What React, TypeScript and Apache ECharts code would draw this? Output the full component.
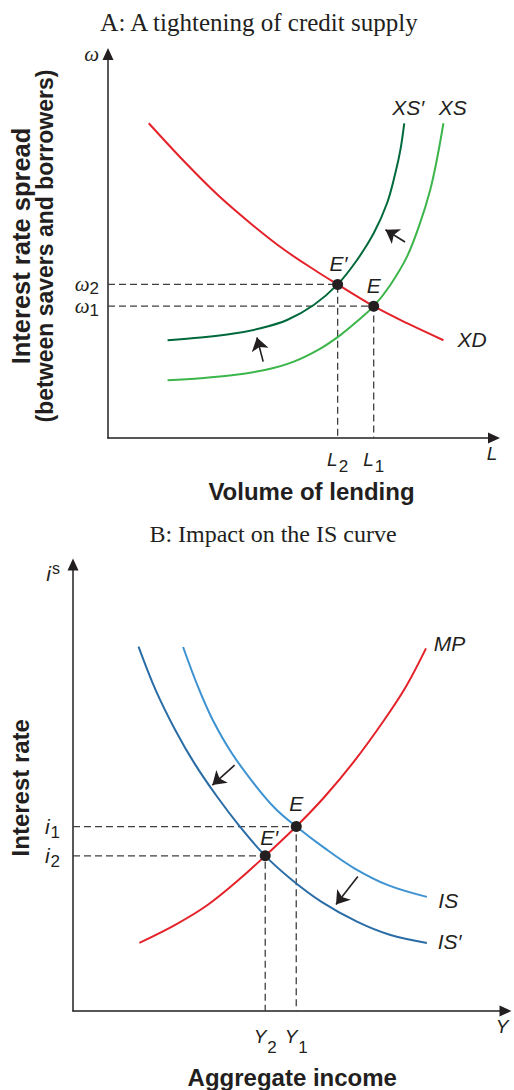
import React, { useEffect, useRef } from "react";
import * as echarts from "echarts";

// ---------- Panel A (abstract units) ----------
const xdCurve = [[10.4,79.5],[19.4,69.9],[27.9,61.5],[36.4,54.2],[44.9,47.6],[53.4,42.0],[58.6,38.8],[67.8,33.3],[76.3,29.0],[85.6,24.7]];
const xsPrimeCurve = [[15.2,24.7],[23.7,25.4],[32.1,26.4],[38.9,27.7],[45.7,29.8],[52.5,33.6],[58.6,38.8],[63.5,44.9],[67.8,51.7],[71.2,59.3],[73.3,66.8],[74.6,72.7],[75.6,79.5]];
const xsCurve = [[15.2,14.6],[23.7,15.1],[32.1,15.9],[40.6,17.3],[47.4,19.3],[54.2,22.6],[59.3,26.0],[63.5,29.4],[67.8,33.3],[72.0,38.6],[76.3,45.8],[79.6,54.2],[82.2,62.6],[83.9,70.2],[85.6,79.5]];
const L2 = 58.6, L1 = 67.8, W2 = 38.8, W1 = 33.3;
const eqA = [[L2, W2], [L1, W1]];
const shiftArrowsA = [[[75.8,49.5],[70.8,52.6]], [[39.6,19.3],[38.0,25.4]]];
const curveLabelsA = [["XS′", 76.6, 83.6], ["XS", 88.0, 83.6], ["XD", 92.9, 25.0]];
const eqLabelsA = [["E′", 58.8, 44.1], ["E", 67.8, 38.6]];
const xTicksA = [[L2, "L", "2"], [L1, "L", "1"], [98, "L", ""]];
const yTicksA = [[W1, "ω", "1"], [97, "ω", ""]];
const yTicksA2 = [[W2, "ω", "2"]];

// ---------- Panel B (abstract units) ----------
const mpCurve = [[15.2,15.1],[23.4,19.1],[30.8,23.5],[38.2,29.3],[44.0,34.4],[51.1,40.9],[57.6,47.5],[64.3,55.3],[71.0,64.2],[76.2,71.9],[80.8,80.4]];
const isCurve = [[25.2,80.7],[28.6,71.9],[31.9,64.7],[36.4,57.1],[42.0,49.7],[46.4,44.8],[51.1,40.9],[57.6,36.1],[64.3,31.7],[72.1,27.9],[81.0,25.3]];
const isPrimeCurve = [[15.0,80.8],[18.9,71.2],[23.4,62.3],[27.8,54.9],[33.0,47.5],[38.2,40.9],[44.0,34.4],[50.2,29.0],[56.9,24.2],[65.0,19.8],[72.5,16.9],[81.0,15.1]];
const Y2 = 44.0, Y1 = 51.1, I1 = 40.9, I2 = 34.4;
const eqB = [[Y1, I1], [Y2, I2]];
const shiftArrowsB = [[[37.0,54.5],[31.9,50.1]], [[65.2,29.8],[60.2,23.6]]];
const curveLabelsB = [["MP", 86.2, 81.4], ["IS", 85.9, 24.4], ["IS′", 86.2, 15.4]];
const eqLabelsB = [["E", 51.1, 46.1], ["E′", 44.9, 38.4]];
const xTicksB = [[Y2, "Y", "2"], [Y1, "Y", "1"], [98.2, "Y", ""]];
const yTicksB = [[I2, "i", "2"], [I1, "i", "1"], [97.1, "i", "s"]];

const INK = "#231f20";
const RED = "#e42229";
const DGREEN = "#00693b";
const LGREEN = "#3cb54a";
const LBLUE = "#3d92d2";
const DBLUE = "#2a6da6";
const DASH = "#3f3f3f";

function tickFormatter(ticks: any[]) {
  return (v: number) => {
    const t = ticks.find((k) => Math.abs(k[0] - v) < 0.001);
    if (!t) return "";
    if (t[2] === "") return `{m|${t[1]}}`;
    if (t[2] === "s") return `{m|${t[1]}}{sup|s}`;
    return `{m|${t[1]}}{s|${t[2]}}`;
  };
}

export default function App() {
  const ref = useRef<HTMLDivElement>(null);
  useEffect(() => {
    const chart = echarts.init(ref.current!, null, { renderer: "svg" });
    const sans = "Liberation Sans";
    const serif = "Liberation Serif";
    const labelItalic = { fontFamily: sans, fontStyle: "italic", fontSize: 21, color: INK };

    const gridA = { left: 107, top: 54, width: 387, height: 384 };
    const gridB = { left: 62, top: 564.5, width: 443.5, height: 446.5 };

    const axisLine = {
      show: true,
      symbol: ["none", "triangle"],
      symbolSize: [11, 12],
      lineStyle: { color: INK, width: 1.5 },
    };

    const curve = (data: number[][], color: string, idx: number) => ({
      type: "line",
      data,
      xAxisIndex: idx,
      yAxisIndex: idx,
      smooth: 0.35,
      symbol: "none",
      lineStyle: { color, width: 2 },
      z: 3,
      silent: true,
    });
    const dashed = (x: number, y: number, idx: number) => ({
      type: "line",
      data: [[0, y], [x, y], [x, 0]],
      xAxisIndex: idx,
      yAxisIndex: idx,
      symbol: "none",
      lineStyle: { color: DASH, width: 1.3, type: [7, 4] },
      z: 2,
      silent: true,
    });
    const arrows = (list: number[][][], idx: number) => ({
      type: "lines",
      coordinateSystem: "cartesian2d",
      xAxisIndex: idx,
      yAxisIndex: idx,
      symbol: ["none", "arrow"],
      symbolSize: 13,
      lineStyle: { color: INK, width: 1.6, opacity: 1 },
      data: list.map((c) => ({ coords: c })),
      z: 4,
      silent: true,
    });
    const points = (list: number[][], idx: number) => ({
      type: "scatter",
      xAxisIndex: idx,
      yAxisIndex: idx,
      symbolSize: 11,
      itemStyle: { color: INK, opacity: 1 },
      data: list,
      z: 5,
      silent: true,
    });
    const texts = (list: any[], idx: number) => ({
      type: "scatter",
      xAxisIndex: idx,
      yAxisIndex: idx,
      symbolSize: 0,
      itemStyle: { opacity: 1 },
      data: list.map((p) => ({ value: [p[1], p[2]], name: p[0] })),
      label: { show: true, position: "inside", formatter: "{b}", ...labelItalic },
      z: 6,
      silent: true,
    });

    const richX = (subPad: number) => ({
      m: { fontFamily: sans, fontStyle: "italic", fontSize: 19, color: INK },
      s: { fontFamily: sans, fontSize: 17, color: INK, padding: [subPad, 0, 0, 1] },
    });
    const omegaLabel = (ticks: any[]) => ({
      customValues: ticks.map((t) => t[0]),
      formatter: tickFormatter(ticks),
      hideOverlap: false, showMinLabel: true, showMaxLabel: true,
      margin: 9,
      rich: {
        m: { fontFamily: serif, fontStyle: "italic", fontSize: 21, color: INK },
        s: { fontFamily: sans, fontSize: 17, color: INK, padding: [9, 0, 0, 0] },
      },
    });

    chart.setOption({
      animation: false,
      title: [
        { text: "A: A tightening of credit supply", left: 254, textAlign: "center", top: 5,
          textStyle: { fontFamily: serif, fontSize: 25, fontWeight: "normal", color: INK } },
        { text: "B: Impact on the IS curve", left: 268, textAlign: "center", top: 517,
          textStyle: { fontFamily: serif, fontSize: 24, fontWeight: "normal", color: INK } },
      ],
      grid: [gridA, gridB],
      xAxis: [
        {
          type: "value", gridIndex: 0, min: 0, max: 98.5,
          axisLine, axisTick: { show: false }, splitLine: { show: false },
          axisLabel: {
            customValues: xTicksA.map((t) => t[0]),
            formatter: tickFormatter(xTicksA),
            hideOverlap: false, showMinLabel: true, showMaxLabel: true,
            margin: 6,
            rich: richX(14),
          },
          name: "Volume of lending", nameLocation: "middle", nameGap: 41,
          nameTextStyle: { fontFamily: sans, fontWeight: "bold", fontSize: 24, color: INK, padding: [0, 0, 0, 21] },
        },
        {
          type: "value", gridIndex: 1, min: 0, max: 99,
          axisLine, axisTick: { show: false }, splitLine: { show: false },
          axisLabel: {
            customValues: xTicksB.map((t) => t[0]),
            formatter: tickFormatter(xTicksB),
            hideOverlap: false, showMinLabel: true, showMaxLabel: true,
            margin: 6,
            rich: richX(22),
          },
          name: "Aggregate income", nameLocation: "middle", nameGap: 54,
          nameTextStyle: { fontFamily: sans, fontWeight: "bold", fontSize: 24, color: INK, padding: [0, 0, 0, 6] },
        },
      ],
      yAxis: [
        {
          type: "value", gridIndex: 0, min: 0, max: 97, position: "left",
          axisLine, axisTick: { show: false }, splitLine: { show: false },
          axisLabel: omegaLabel(yTicksA),
          name: "{a|Interest rate spread}\n{b|(between savers and borrowers)}",
          nameLocation: "middle", nameGap: 51, nameRotate: 90,
          nameTextStyle: {
            fontFamily: sans, fontWeight: "bold", fontSize: 23, lineHeight: 24, color: INK,
            rich: {
              a: { fontFamily: sans, fontWeight: "bold", fontSize: 25.5, lineHeight: 24, color: INK },
              b: { fontFamily: sans, fontWeight: "bold", fontSize: 23, lineHeight: 24, color: INK },
            },
          },
        },
        {
          type: "value", gridIndex: 1, min: 0, max: 99,
          axisLine, axisTick: { show: false }, splitLine: { show: false },
          axisLabel: {
            customValues: yTicksB.map((t) => t[0]),
            formatter: tickFormatter(yTicksB),
            hideOverlap: false, showMinLabel: true, showMaxLabel: true,
            margin: 13,
            rich: {
              m: { fontFamily: sans, fontStyle: "italic", fontSize: 21, color: INK },
              s: { fontFamily: sans, fontSize: 17, color: INK, padding: [12, 0, 0, 1] },
              sup: { fontFamily: sans, fontSize: 16, color: INK, padding: [0, 0, 10, 1] },
            },
          },
          name: "Interest rate",
          nameLocation: "middle", nameGap: 41, nameRotate: 90,
          nameTextStyle: { fontFamily: sans, fontWeight: "bold", fontSize: 24, color: INK },
        },
        {
          type: "value", gridIndex: 0, min: 0, max: 97, position: "left", offset: 0,
          axisLine: { show: false }, axisTick: { show: false }, splitLine: { show: false },
          axisLabel: omegaLabel(yTicksA2),
        },
      ],
      series: [
        dashed(L2, W2, 0),
        dashed(L1, W1, 0),
        curve(xdCurve, RED, 0),
        curve(xsPrimeCurve, DGREEN, 0),
        curve(xsCurve, LGREEN, 0),
        arrows(shiftArrowsA, 0),
        points(eqA, 0),
        texts(curveLabelsA, 0),
        texts(eqLabelsA, 0),
        dashed(Y1, I1, 1),
        dashed(Y2, I2, 1),
        curve(mpCurve, RED, 1),
        curve(isCurve, LBLUE, 1),
        curve(isPrimeCurve, DBLUE, 1),
        arrows(shiftArrowsB, 1),
        points(eqB, 1),
        texts(curveLabelsB, 1),
        texts(eqLabelsB, 1),
      ],
    });
    return () => chart.dispose();
  }, []);
  return (
    <div
      ref={ref}
      style={{ position: "fixed", left: 0, top: 0, width: 514, height: 1090, background: "#fff" }}
    />
  );
}
